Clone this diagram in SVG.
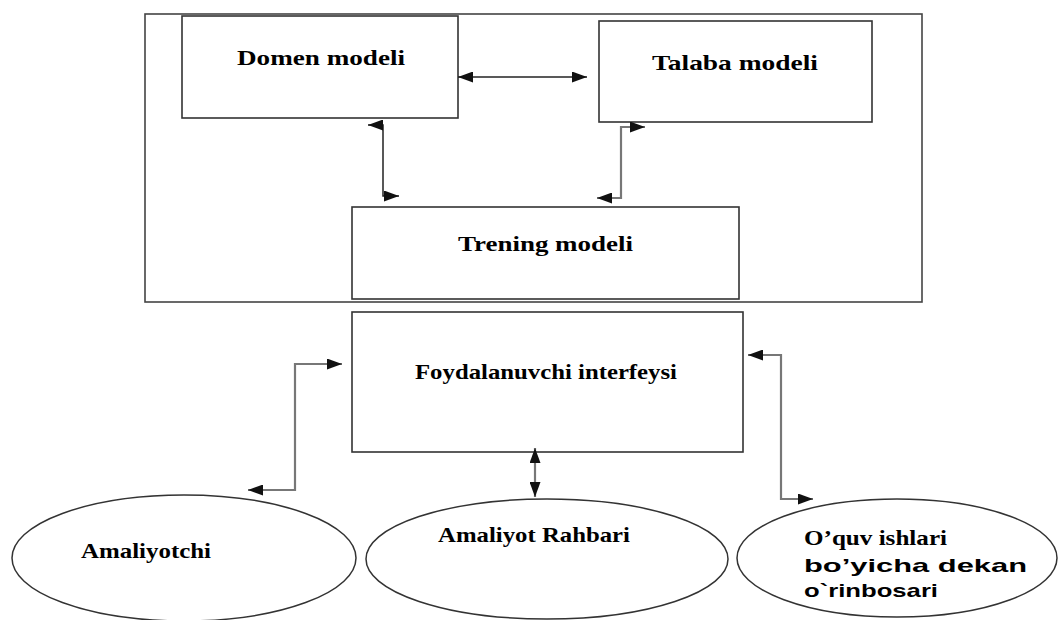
<svg xmlns="http://www.w3.org/2000/svg" width="1059" height="620" viewBox="0 0 1059 620">
<style>
.box{fill:#fff;stroke:#333;stroke-width:1.6}
.frame{fill:none;stroke:#444;stroke-width:1.6}
.ell{fill:#fff;stroke:#333;stroke-width:1.5}
.lbl{font-family:"Liberation Serif","Times New Roman",serif;font-weight:bold;font-size:22px;fill:#000}
.sans{font-family:"Liberation Sans",Arial,sans-serif;font-weight:bold;font-size:19px;fill:#000}
.con{fill:none;stroke:#222;stroke-width:1.5}
.con2{fill:none;stroke:#777;stroke-width:2.2}
</style>
<defs>
<marker id="ah" markerUnits="userSpaceOnUse" markerWidth="15" markerHeight="11" refX="15" refY="5.5" orient="auto-start-reverse">
<path d="M0,0 L15,5.5 L0,11 z" fill="#111"/>
</marker>
</defs>
<rect class="frame" x="145" y="14" width="777" height="288"/>
<g id="domen">
<rect class="box" x="182" y="16" width="276" height="102"/>
<text class="lbl" x="237" y="65" textLength="168" lengthAdjust="spacingAndGlyphs">Domen modeli</text>
</g>
<g id="talaba">
<rect class="box" x="599" y="21" width="273" height="101"/>
<text class="lbl" x="652" y="70" textLength="166" lengthAdjust="spacingAndGlyphs">Talaba modeli</text>
</g>
<g id="trening">
<rect class="box" x="352" y="207" width="387" height="92"/>
<text class="lbl" x="458" y="251" textLength="175" lengthAdjust="spacingAndGlyphs">Trening modeli</text>
</g>
<g id="interfeys">
<rect class="box" x="352" y="312" width="391" height="140"/>
<text class="lbl" x="415" y="379" font-size="20" textLength="262" lengthAdjust="spacingAndGlyphs">Foydalanuvchi interfeysi</text>
</g>
<g id="amaliyotchi">
<ellipse class="ell" cx="184" cy="558" rx="172" ry="63"/>
<text class="lbl" x="81" y="558" font-size="20" textLength="130" lengthAdjust="spacingAndGlyphs">Amaliyotchi</text>
</g>
<g id="rahbar">
<ellipse class="ell" cx="547" cy="559" rx="181" ry="60"/>
<text class="lbl" x="438" y="542" font-size="20" textLength="192" lengthAdjust="spacingAndGlyphs">Amaliyot Rahbari</text>
</g>
<g id="dekan">
<ellipse class="ell" cx="897" cy="558" rx="160" ry="59"/>
<text class="lbl" x="804" y="545" textLength="143" lengthAdjust="spacingAndGlyphs">O’quv ishlari</text>
<text class="sans" x="804" y="572" textLength="223" lengthAdjust="spacingAndGlyphs">bo’yicha dekan</text>
<text class="sans" x="804" y="597" textLength="134" lengthAdjust="spacingAndGlyphs">o`rinbosari</text>
</g>
<g id="connectors">
<path class="con" d="M458,77 H587" marker-start="url(#ah)" marker-end="url(#ah)"/>
<path class="con" d="M368,125 H383 V196 H399" marker-start="url(#ah)" marker-end="url(#ah)"/>
<path class="con2" d="M645,127 H621 V198 H597" marker-start="url(#ah)" marker-end="url(#ah)"/>
<path class="con2" d="M342,364 H295 V490 H248" marker-start="url(#ah)" marker-end="url(#ah)"/>
<path class="con2" d="M748,355 H781 V499 H813" marker-start="url(#ah)" marker-end="url(#ah)"/>
<path class="con2" d="M535,448 V497" marker-start="url(#ah)" marker-end="url(#ah)"/>
</g>
</svg>
